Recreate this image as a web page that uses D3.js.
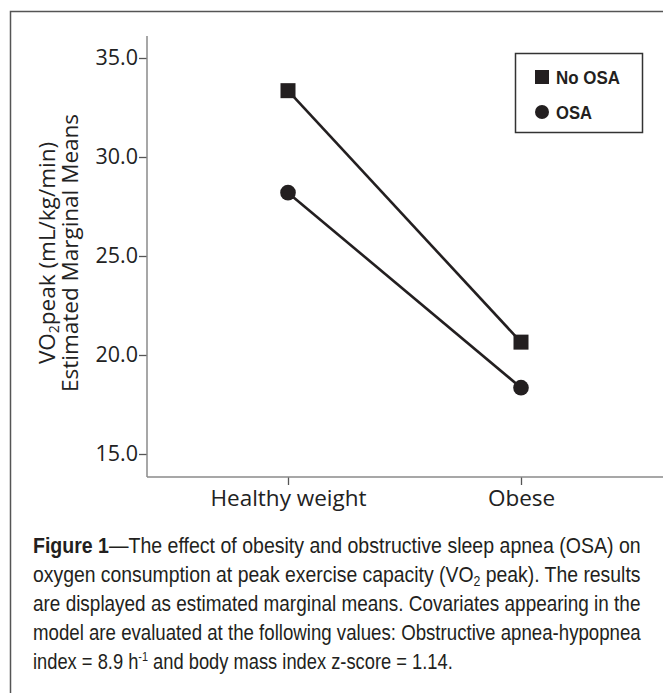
<!DOCTYPE html>
<html>
<head>
<meta charset="utf-8">
<script src="https://cdn.jsdelivr.net/npm/d3@7"></script>
<style>
  body { margin: 0; background: #fff; }
  svg { display: block; }
  .tick text { font-family: "Open Sans", "Noto Sans", sans-serif; fill: #222; }
  .narrow { font-family: "Liberation Sans Narrow", "Arial Narrow", "Liberation Sans", sans-serif; fill: #231f20; }
</style>
</head>
<body>
<div id="chart"></div>
<script>
// values (estimated marginal means)
const categories = ["Healthy weight", "Obese"];
const noOsaMeans = [33.35, 20.65];
const osaMeans = [28.2, 18.35];
const yTicks = [15, 20, 25, 30, 35];
const seriesNames = ["No OSA", "OSA"];

const captionLines = [
  "The effect of obesity and obstructive sleep apnea (OSA) on",
  "oxygen consumption at peak exercise capacity (VO",
  "are displayed as estimated marginal means. Covariates appearing in the",
  "model are evaluated at the following values: Obstructive apnea-hypopnea",
  "index = 8.9 h"
];

const width = 668, height = 693;
const ink = "#231f20";
const axisGrey = "#8a8a8a";

const svg = d3.select("#chart").append("svg")
  .attr("width", width)
  .attr("height", height);

// outer frame (left + top edges only, the rest is cropped off)
svg.append("path")
  .attr("d", "M10.5,693 V11.5 H663")
  .attr("fill", "none")
  .attr("stroke", "#555")
  .attr("stroke-width", 1.5);

// scales
const y = d3.scaleLinear().domain([15, 35]).range([454, 58]);
const x = d3.scalePoint().domain(categories).range([288, 521]);

const axisX = 147, axisY = 477;

// y axis
const yAxis = svg.append("g")
  .attr("transform", `translate(${axisX},0)`)
  .call(d3.axisLeft(y).tickValues(yTicks).tickFormat(d3.format(".1f")).tickSize(8).tickSizeOuter(0).tickPadding(1));
yAxis.select(".domain").remove();
yAxis.selectAll(".tick line").attr("stroke", "#555").attr("stroke-width", 1.3);
yAxis.selectAll(".tick text").attr("font-size", 21.5);
svg.append("line")
  .attr("x1", axisX).attr("x2", axisX)
  .attr("y1", 36).attr("y2", axisY)
  .attr("stroke", axisGrey).attr("stroke-width", 1.5);

// x axis
const xAxis = svg.append("g")
  .attr("transform", `translate(0,${axisY})`)
  .call(d3.axisBottom(x).tickSize(8).tickSizeOuter(0).tickPadding(5));
xAxis.select(".domain").remove();
xAxis.selectAll(".tick line").attr("stroke", "#555").attr("stroke-width", 1.3);
xAxis.selectAll(".tick text").attr("font-size", 22.5);
svg.append("line")
  .attr("x1", axisX).attr("x2", 663)
  .attr("y1", axisY).attr("y2", axisY)
  .attr("stroke", axisGrey).attr("stroke-width", 1.5);

// y axis title, two lines
const yTitle = svg.append("text")
  .attr("transform", "translate(0,253) rotate(-90)")
  .attr("text-anchor", "middle")
  .attr("font-family", "'Open Sans', 'Noto Sans', sans-serif")
  .attr("font-size", 22.5)
  .attr("fill", "#222");
const t1 = yTitle.append("tspan").attr("x", 0).attr("y", 55);
t1.append("tspan").text("VO");
t1.append("tspan").attr("font-size", 14).attr("dy", 4).text("2");
t1.append("tspan").attr("dy", -4).text("peak (mL/kg/min)");
yTitle.append("tspan").attr("x", 0).attr("y", 78).text("Estimated Marginal Means");

// series
const series = [
  { name: seriesNames[0], values: noOsaMeans, shape: "square" },
  { name: seriesNames[1], values: osaMeans, shape: "circle" }
];

const line = d3.line()
  .x((d, i) => x(categories[i]))
  .y(d => y(d));

svg.selectAll(".series-line")
  .data(series)
  .join("path")
  .attr("class", "series-line")
  .attr("d", d => line(d.values))
  .attr("fill", "none")
  .attr("stroke", ink)
  .attr("stroke-width", 2.6);

const sq = 15;
series.forEach(s => {
  const pts = s.values.map((v, i) => ({ cx: x(categories[i]), cy: y(v) }));
  if (s.shape === "square") {
    svg.selectAll(null).data(pts).join("rect")
      .attr("x", d => d.cx - sq / 2).attr("y", d => d.cy - sq / 2)
      .attr("width", sq).attr("height", sq)
      .attr("fill", ink);
  } else {
    svg.selectAll(null).data(pts).join("circle")
      .attr("cx", d => d.cx).attr("cy", d => d.cy).attr("r", 7.8)
      .attr("fill", ink);
  }
});

// squeeze a text horizontally (no narrow font installed) so it spans `target` px
function fitWidth(sel, left, baseline, target) {
  const natural = sel.node().getComputedTextLength();
  sel.attr("transform", `translate(${left},${baseline}) scale(${target / natural},1)`);
}

// legend
const legend = svg.append("g");
legend.append("rect")
  .attr("x", 515.5).attr("y", 53.5).attr("width", 127).attr("height", 79)
  .attr("fill", "#fff").attr("stroke", "#333").attr("stroke-width", 1.5);
legend.append("rect")
  .attr("x", 535).attr("y", 70).attr("width", 14).attr("height", 14)
  .attr("fill", ink);
legend.append("circle")
  .attr("cx", 542).attr("cy", 112).attr("r", 7)
  .attr("fill", ink);
seriesNames.forEach((name, i) => {
  const t = legend.append("text")
    .attr("class", "narrow")
    .attr("font-size", 19)
    .attr("font-weight", "bold")
    .text(name);
  fitWidth(t, 556, [84, 119][i], [64, 36][i]);
});

// caption
const cap = svg.append("g").attr("class", "narrow").attr("font-size", 22);
const capX = 33, capRight = 641, capY0 = 553, capStep = 29;
const full = capRight - capX;

const l1 = cap.append("text");
l1.append("tspan").attr("font-weight", "bold").text("Figure 1");
l1.append("tspan").text("\u2014" + captionLines[0]);
fitWidth(l1, capX, capY0, full);

const l2 = cap.append("text");
l2.append("tspan").text(captionLines[1]);
l2.append("tspan").attr("font-size", 14).attr("dy", 4).text("2");
l2.append("tspan").attr("dy", -4).text(" peak). The results");
fitWidth(l2, capX, capY0 + capStep, full);

[2, 3].forEach(i => {
  const t = cap.append("text").text(captionLines[i]);
  fitWidth(t, capX, capY0 + capStep * i, full);
});

const l5 = cap.append("text");
l5.append("tspan").text(captionLines[4]);
l5.append("tspan").attr("font-size", 13).attr("dy", -8).text("-1");
l5.append("tspan").attr("dy", 8).text(" and body mass index z-score = 1.14.");
fitWidth(l5, capX, capY0 + capStep * 4, 420);
</script>
</body>
</html>
